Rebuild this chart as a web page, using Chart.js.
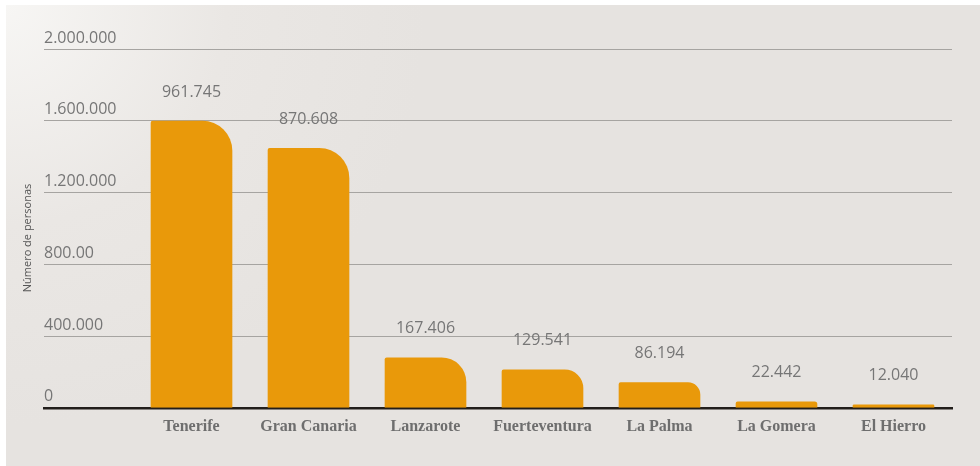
<!DOCTYPE html>
<html>
<head>
<meta charset="utf-8">
<script src="https://cdn.jsdelivr.net/npm/chart.js@4"></script>
<style>
  html, body { margin: 0; padding: 0; background: #ffffff; }
  #panel {
    position: absolute; left: 6px; top: 5px; width: 974px; height: 461px;
    background: radial-gradient(circle at 0 0, #f7f6f4 0, #eae7e4 220px, #e6e3e0 420px);
  }
</style>
</head>
<body>
<div id="panel"><canvas id="chart"></canvas></div>
<script>
// ========== Data ==========

const islands = ['Tenerife', 'Gran Canaria', 'Lanzarote', 'Fuerteventura', 'La Palma', 'La Gomera', 'El Hierro'];
// bar heights as drawn (they do not match the printed labels)
const barValues = [1598000, 1447000, 279000, 212000, 140000, 33000, 17000];
const valueLabels = ['961.745', '870.608', '167.406', '129.541', '86.194', '22.442', '12.040'];
const yTickLabels = ['0', '400.000', '800.00', '1.200.000', '1.600.000', '2.000.000'];

const GRAY = '#767676';

// ========== Plugins ==========

const valueLabelPlugin = {
  id: 'valueLabels',
  afterDatasetsDraw(chart) {
    const { ctx } = chart;
    const meta = chart.getDatasetMeta(0);
    ctx.save();
    ctx.font = '16px "Open Sans"';
    ctx.fillStyle = GRAY;
    ctx.textAlign = 'center';
    ctx.textBaseline = 'middle';
    meta.data.forEach((bar, i) => {
      const y = Math.min(bar.y - 29, bar.base - 21);
      ctx.fillText(valueLabels[i], bar.x, y);
    });
    ctx.restore();
  }
};

const sideTitlePlugin = {
  id: 'sideTitle',
  afterDraw(chart) {
    const { ctx } = chart;
    ctx.save();
    ctx.translate(22, 233);
    ctx.rotate(-Math.PI / 2);
    ctx.font = '11px "Open Sans"';
    ctx.fillStyle = '#555555';
    ctx.textAlign = 'center';
    ctx.textBaseline = 'middle';
    ctx.fillText('Número de personas', 0, 0);
    ctx.restore();
  }
};

// ========== Chart ==========

new Chart(document.getElementById('chart'), {
  type: 'bar',
  data: {
    datasets: [{
      data: barValues.map((v, i) => ({ x: i, y: v })),
      backgroundColor: '#e9990a',
      barThickness: 81,
      borderRadius: { topLeft: 2, topRight: 30, bottomLeft: 0, bottomRight: 0 },
      borderSkipped: 'bottom',
    }],
  },
  options: {
    responsive: true,
    maintainAspectRatio: false,
    animation: false,
    layout: { padding: { left: 38, right: 28, top: 44, bottom: 29 } },
    plugins: { legend: { display: false }, tooltip: { enabled: false } },
    scales: {
      x: {
        type: 'linear',
        offset: false,
        min: -1.2607,
        max: 6.5,
        z: 1,
        afterBuildTicks: s => { s.ticks = islands.map((_, i) => ({ value: i })); },
        ticks: {
          callback: v => islands[v] ?? '',
          font: { family: '"Liberation Serif"', size: 16, weight: 'bold' },
          color: '#6e6e6e',
          padding: 1,
          maxRotation: 0,
          autoSkip: false,
        },
        grid: { display: false },
        border: { display: true, color: '#221e1b', width: 2.5 },
      },
      y: {
        min: 0,
        max: 2000000,
        ticks: {
          stepSize: 400000,
          mirror: true,
          padding: 0,
          labelOffset: -11,
          callback: (v, i) => yTickLabels[i],
          font: { family: '"Open Sans"', size: 16 },
          color: GRAY,
        },
        grid: { color: '#a6a4a1', lineWidth: 1, drawTicks: false },
        border: { display: false },
      },
    },
  },
  plugins: [valueLabelPlugin, sideTitlePlugin],
});
</script>
</body>
</html>
